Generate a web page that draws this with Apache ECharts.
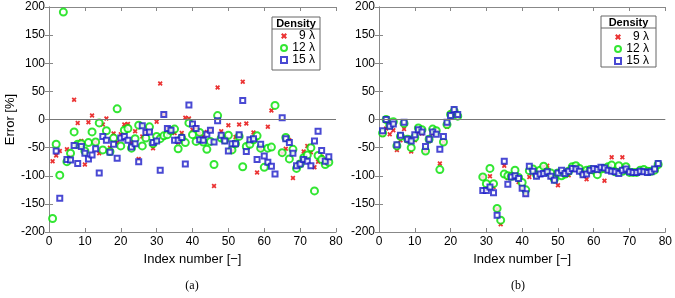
<!DOCTYPE html>
<html>
<head>
<meta charset="utf-8">
<script src="https://cdn.jsdelivr.net/npm/echarts@6/dist/echarts.min.js"></script>
<style>
  html, body { margin: 0; padding: 0; background: #fff; }
  #chart { width: 675px; height: 298px; }
</style>
</head>
<body>
<div id="chart"></div>
<script>
// error [%] by index number 1..78 (null = no point)
const a9 = [-74, -64, -56, null, -53, -66, 35, -6, -38, -80, -5, 7, -40, -60, -9, 2, -50, -25, -41, -26,
  -9, -8, -41, -21, -70, -30, -23, -21, -51, -4, 64, 9, -16, -21, -24, -41, -24, 3, 2, -18,
  -14, -25, -30, -22, -18, -118, 57, -21, -32, -10, -56, -31, -9, 67, -7, -37, -23, -94, -51, null,
  -13, 16, null, null, -60, -52, -37, -104, -82, -76, -57, -47, -58, -85, -75, -66, -78, -74];
const a12 = [-176, -44, -99, 191, -75, -60, -22, -44, -43, -56, -41, -22, -40, -6, -54, -20, -57, -33, 19, -47,
  -19, -16, -51, -34, -10, -47, -33, -13, -43, -30, -34, -29, -27, -20, -17, -52, -33, -41, -6, -27,
  -39, -23, -40, -53, -39, -80, 7, -33, -36, -28, -54, -43, -30, -84, -48, -44, -36, -29, -51, -85,
  -51, -49, 25, null, -59, -32, -70, -53, -87, -79, -68, -63, -50, -127, -64, -71, -80, -76];
const a15 = [null, -56, -140, null, -71, -72, -46, -78, -48, -60, -70, -63, -52, -95, -30, -37, -58, -44, -69, -33,
  -30, -37, -49, -43, -75, -11, -23, -22, -41, -38, -90, 9, -16, -19, -37, -37, -32, -79, 26, -8,
  -16, -36, -37, -26, -19, -40, -2, -28, -38, -56, -43, -43, -27, 34, -57, -36, -34, -71, -44, -65,
  -76, -83, -97, null, 3, -34, -41, -60, -82, -79, -71, -74, -82, -38, -21, -55, -74, -66];

const b9 = [-27, -16, -26, -19, -54, -37, -17, -37, -57, -37, -22, -25, -56, -38, -25, -22, -78, -40, -13, 12,
  17, 5, null, null, null, null, null, null, -102, -122, -101, -120, -159, -186, -82, -104, -101, -100, -111, -122,
  -133, -102, -93, -97, -96, -84, -82, -102, -109, -117, -96, -96, -99, -85, -82, -90, -99, -106, -93, -90,
  -93, -87, -109, -90, -67, -95, -91, -67, -90, -94, -94, -94, -93, -91, -94, -93, -90, -82];
const b12 = [-24, 0, -10, -4, -47, -30, -7, -35, -50, -32, -15, -18, -56, -35, -17, -20, -89, -40, -9, 9,
  15, 6, null, null, null, null, null, null, -102, -114, -87, -114, -158, -179, -97, -100, -101, -90, -103, -112,
  -125, -91, -88, -98, -90, -83, -93, -95, -106, -95, -100, -97, -92, -84, -82, -87, -95, -90, -89, -90,
  -98, -88, -87, -84, -81, -93, -82, -92, -84, -94, -94, -94, -90, -89, -92, -92, -90, -80];
const b15 = [-20, 0, -12, -8, -45, -28, -5, -35, -38, -27, -18, -22, -48, -35, -22, -26, -53, -30, -5, 7,
  18, 9, null, null, null, null, null, null, -126, -126, -120, -130, -170, null, -74, -115, -102, -100, -105, -122,
  -132, -83, -92, -101, -97, -96, -93, -101, -108, -95, -90, -96, -92, -87, -88, -92, -98, -97, -90, -87,
  -89, -85, -86, -90, -92, -93, -96, -90, -88, -93, -94, -94, -92, -93, -94, -93, -88, -78];

const names = ["9 λ", "12 λ", "15 λ"];
const xTicks = [0, 10, 20, 30, 40, 50, 60, 70, 80];
const yTicks = [-200, -150, -100, -50, 0, 50, 100, 150, 200];

const RED = "#e60000", GREEN = "#00e000", BLUE = "#1c1cc8";
const FONT = "Liberation Sans";
// filled "x" mark with thick arms
const xMark = "path://M0,2.5L2.5,0L5,2.5L7.5,0L10,2.5L7.5,5L10,7.5L7.5,10L5,7.5L2.5,10L0,7.5L2.5,5Z";

const pts = (arr) => arr.map((v, i) => (v === null ? null : [i + 1, v])).filter((p) => p);

const grids = [
  { left: 49, top: 7, width: 287, height: 225 },
  { left: 379, top: 7, width: 287, height: 225 },
];

function xAx(g, pos) {
  const main = pos === "bottom";
  return {
    type: "value", gridIndex: g, position: pos, min: xTicks[0], max: xTicks[xTicks.length - 1], interval: 10,
    name: main ? "Index number [−]" : "", nameLocation: "middle", nameGap: 19,
    nameTextStyle: { fontFamily: FONT, fontSize: 13, color: "#000" },
    axisLine: { show: true, onZero: false, lineStyle: { color: "#888", width: 1 } },
    axisTick: { show: true, inside: true, length: 4, lineStyle: { color: "#888" } },
    axisLabel: { show: main, fontFamily: FONT, fontSize: 12, color: "#000", margin: 4 },
    splitLine: { show: false },
  };
}

function yAx(g, pos) {
  const main = pos === "left";
  return {
    type: "value", gridIndex: g, position: pos, min: yTicks[0], max: yTicks[yTicks.length - 1], interval: 50,
    name: main && g === 0 ? "Error [%]" : "", nameLocation: "middle", nameGap: 30, nameRotate: 90,
    nameTextStyle: { fontFamily: FONT, fontSize: 13, color: "#000" },
    axisLine: { show: true, lineStyle: { color: "#888", width: 1 } },
    axisTick: { show: true, inside: true, length: 4, lineStyle: { color: "#888" } },
    axisLabel: { show: main, fontFamily: FONT, fontSize: 12, color: "#000", margin: 4 },
    splitLine: { show: false },
  };
}

function seriesFor(g, d9, d12, d15) {
  return [
    {
      name: names[0], type: "scatter", xAxisIndex: g, yAxisIndex: g, data: pts(d9),
      symbol: xMark, symbolSize: 5, itemStyle: { color: RED },
      markLine: {
        silent: true, symbol: "none", label: { show: false },
        lineStyle: { color: "#777", type: "solid", width: 1 }, data: [{ yAxis: 0 }],
      },
    },
    {
      name: names[1], type: "scatter", xAxisIndex: g, yAxisIndex: g, data: pts(d12),
      symbol: "emptyCircle", symbolSize: 7, itemStyle: { color: GREEN, borderColor: GREEN, borderWidth: 1.3 },
    },
    {
      name: names[2], type: "scatter", xAxisIndex: g, yAxisIndex: g, data: pts(d15),
      symbol: "emptyRect", symbolSize: 5, itemStyle: { color: BLUE, borderColor: BLUE, borderWidth: 1 },
    },
  ];
}

function legendFor(left, top) {
  return {
    orient: "vertical", left: left, top: top, itemWidth: 6, itemHeight: 6, itemGap: 0, padding: 0,
    selectedMode: false, data: names, z: 6,
    formatter: (n) => "{n|" + n + "}",
    textStyle: { fontFamily: FONT, fontSize: 12, color: "#000", rich: { n: { width: 23, align: "right", lineHeight: 12.5, fontSize: 12 } } },
  };
}

function legendBox(x, y, w, h) {
  return [
    { type: "rect", z: 3, shape: { x: x, y: y, width: w, height: h }, style: { fill: "#fff", stroke: "#666", lineWidth: 1 } },
    { type: "line", z: 3, shape: { x1: x, y1: y + 12, x2: x + w, y2: y + 12 }, style: { stroke: "#666", lineWidth: 1 } },
    { type: "text", z: 3, x: x + w / 2, y: y + 6.5, style: { text: "Density", fontFamily: FONT, fontSize: 11, fontWeight: "bold", fill: "#000", align: "center", verticalAlign: "middle" } },
  ];
}

const chart = echarts.init(document.getElementById("chart"), null, { renderer: "canvas" });
chart.setOption({
  animation: false,
  grid: grids,
  xAxis: [xAx(0, "bottom"), xAx(1, "bottom"), xAx(0, "top"), xAx(1, "top")],
  yAxis: [yAx(0, "left"), yAx(1, "left"), yAx(0, "right"), yAx(1, "right")],
  legend: [legendFor(280, 30), legendFor(614, 31)],
  graphic: [
    ...legendBox(272, 17, 48, 53),
    ...legendBox(601, 16, 55, 51),
    { type: "text", x: 192, y: 286, style: { text: "(a)", fontFamily: "Liberation Serif", fontSize: 12, fill: "#000", align: "center", verticalAlign: "middle" } },
    { type: "text", x: 518, y: 286, style: { text: "(b)", fontFamily: "Liberation Serif", fontSize: 12, fill: "#000", align: "center", verticalAlign: "middle" } },
  ],
  series: [...seriesFor(0, a9, a12, a15), ...seriesFor(1, b9, b12, b15)],
});
</script>
</body>
</html>
